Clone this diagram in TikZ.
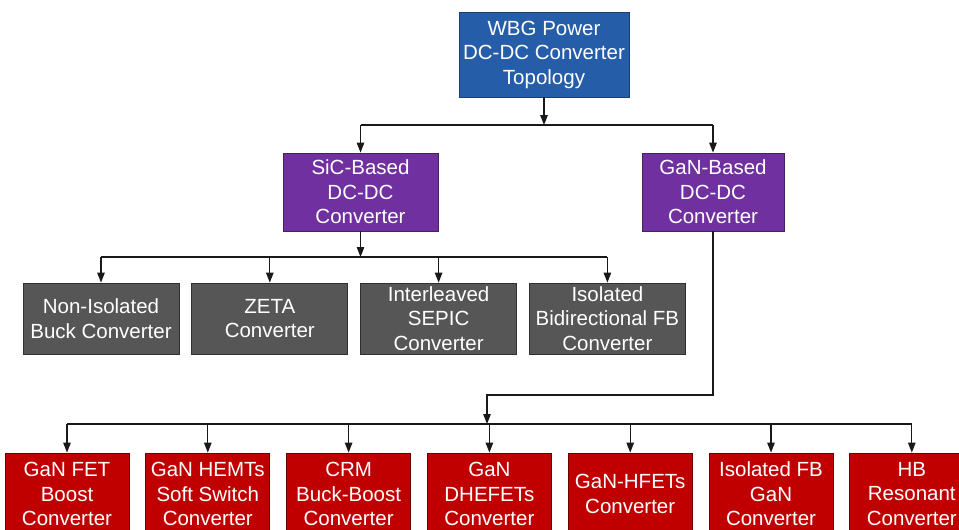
\documentclass[tikz,border=0pt]{standalone}
\usepackage{fontspec}
\setmainfont{Liberation Sans}
\usepackage{tikz}
\usetikzlibrary{arrows.meta, positioning}
\definecolor{topologyfill}{HTML}{265DA8}
\definecolor{topologyline}{HTML}{1B3F73}
\definecolor{basedfill}{HTML}{7030A0}
\definecolor{basedline}{HTML}{46205F}
\definecolor{sicleaffill}{HTML}{565656}
\definecolor{sicleafline}{HTML}{303030}
\definecolor{ganleaffill}{HTML}{C00000}
\definecolor{ganleafline}{HTML}{6E0000}

\begin{document}
\begin{tikzpicture}[
    x=1pt, y=-1pt,
    node distance=12pt,
    treebox/.style={
        draw,
        line width=0.8pt,
        align=center,
        inner sep=2pt,
        text=white,
        font=\fontsize{20.5}{24.5}\selectfont
    },
    topologybox/.style={
        treebox,
        fill=topologyfill,
        draw=topologyline,
        minimum width=170pt,
        minimum height=85pt
    },
    basedbox/.style={
        treebox,
        fill=basedfill,
        draw=basedline,
        minimum width=150pt,
        minimum height=78pt
    },
    sicleaf/.style={
        treebox,
        fill=sicleaffill,
        draw=sicleafline,
        minimum width=156pt,
        minimum height=71pt
    },
    ganleaf/.style={
        treebox,
        fill=ganleaffill,
        draw=ganleafline,
        minimum width=124pt,
        minimum height=82pt
    },
    busline/.style={
        line width=1.3pt,
        black!90
    },
    branchlink/.style={
        -{Triangle[length=10pt, width=7.5pt]},
        line width=1.3pt,
        black!90
    }
]
    \clip (0,0) rectangle (959,530);

    \node[topologybox] (wbg) at (544,54.5) {WBG Power\\DC-DC Converter\\Topology};

    \node[basedbox, minimum width=155pt] (sic) at (360.5,192) {SiC-Based\\DC-DC\\Converter};
    \node[basedbox, minimum width=142pt] (gan) at (713,192) {GaN-Based\\DC-DC\\Converter};

    \node[sicleaf] (nonIsolated) at (101,318.5) {Non-Isolated\\Buck Converter};
    \node[sicleaf, right=of nonIsolated] (zeta) {ZETA\\Converter};
    \node[sicleaf, right=of zeta] (interleaved) {Interleaved\\SEPIC\\Converter};
    \node[sicleaf, right=of interleaved] (isolatedBi) {Isolated\\Bidirectional FB\\Converter};

    \node[ganleaf] (ganFet) at (67,494) {GaN FET\\Boost\\Converter};
    \node[ganleaf, right=16pt of ganFet] (ganHemt) {GaN HEMTs\\Soft Switch\\Converter};
    \node[ganleaf, right=16pt of ganHemt] (crm) {CRM\\Buck-Boost\\Converter};
    \node[ganleaf, right=16pt of crm] (ganDhefet) {GaN\\DHEFETs\\Converter};
    \node[ganleaf, right=16pt of ganDhefet] (ganHfet) {GaN-HFETs\\Converter};
    \node[ganleaf, right=16pt of ganHfet] (isolatedFb) {Isolated FB\\GaN\\Converter};
    \node[ganleaf, right=16pt of isolatedFb] (hbResonant) {HB\\Resonant\\Converter};

    \coordinate (topBus) at (544,125);
    \coordinate (sicBus) at (360.5,257);
    \coordinate (ganElbow) at (487,395);
    \coordinate (ganBus) at (487,424);

    \draw[branchlink] (wbg) -- (topBus);
    \draw[busline] (sic |- topBus) -- (gan |- topBus);
    \foreach \based in {sic,gan}
        \draw[branchlink] (\based |- topBus) -- (\based);

    \draw[branchlink] (sic) -- (sicBus);
    \draw[busline] (nonIsolated |- sicBus) -- (isolatedBi |- sicBus);
    \foreach \leaf in {nonIsolated,zeta,interleaved,isolatedBi}
        \draw[branchlink] (\leaf |- sicBus) -- (\leaf);

    \draw[branchlink] (gan.south) |- (ganElbow) -- (ganBus);
    \draw[busline] (ganFet |- ganBus) -- (hbResonant |- ganBus);
    \foreach \leaf in {ganFet,ganHemt,crm,ganDhefet,ganHfet,isolatedFb,hbResonant}
        \draw[branchlink] (\leaf |- ganBus) -- (\leaf);
\end{tikzpicture}
\end{document}
